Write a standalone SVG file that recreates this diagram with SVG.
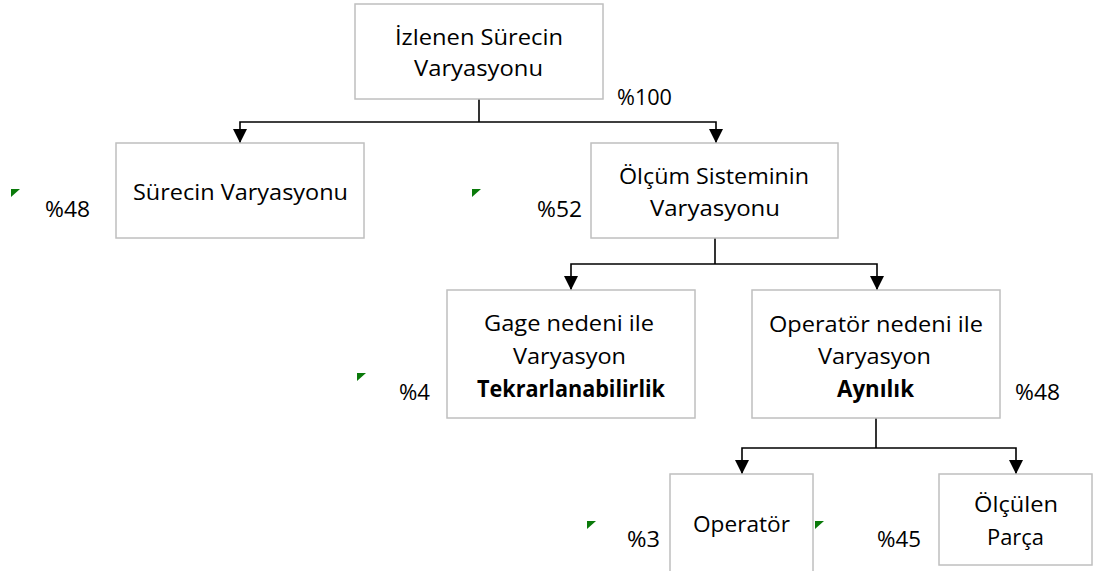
<svg xmlns="http://www.w3.org/2000/svg" width="1101" height="571" viewBox="0 0 1101 571">
  <style>
    .box { fill: #ffffff; stroke: #bfbfbf; stroke-width: 1.5; }
    .t, .pct { font-family: "Open Sans", "Noto Sans", "Liberation Sans", sans-serif; font-size: 22.5px; fill: #000000; }
    .b { font-weight: bold; }
    .link { fill: none; stroke: #000000; stroke-width: 1.6; }
    .flag { fill: #0a7a0a; }
  </style>
  <defs>
    <marker id="arrow" markerUnits="userSpaceOnUse" markerWidth="15" markerHeight="15" refX="14" refY="7" orient="auto">
      <path d="M0,0 L14,7 L0,14 Z" fill="#000000"/>
    </marker>
  </defs>

  <rect width="1101" height="571" fill="#ffffff"/>

  <!-- connectors -->
  <g id="connectors">
    <polyline class="link" points="479,99 479,122"/>
    <polyline class="link" points="479,122 240,122 240,143" marker-end="url(#arrow)"/>
    <polyline class="link" points="479,122 716,122 716,143" marker-end="url(#arrow)"/>
    <polyline class="link" points="715,238 715,264"/>
    <polyline class="link" points="715,264 571,264 571,290" marker-end="url(#arrow)"/>
    <polyline class="link" points="715,264 877,264 877,290" marker-end="url(#arrow)"/>
    <polyline class="link" points="876,418 876,448"/>
    <polyline class="link" points="876,448 742,448 742,474" marker-end="url(#arrow)"/>
    <polyline class="link" points="876,448 1016,448 1016,474" marker-end="url(#arrow)"/>
  </g>

  <!-- root -->
  <g id="node-total">
    <rect class="box" x="355" y="4" width="248" height="95"/>
    <text class="t" x="395" y="45" textLength="168" lengthAdjust="spacingAndGlyphs">İzlenen Sürecin</text>
    <text class="t" x="414" y="76" textLength="129" lengthAdjust="spacingAndGlyphs">Varyasyonu</text>
    <text class="pct" x="617" y="105" textLength="55" lengthAdjust="spacingAndGlyphs">%100</text>
  </g>

  <g id="node-process">
    <rect class="box" x="116" y="143" width="248" height="95"/>
    <text class="t" x="133" y="200" textLength="215" lengthAdjust="spacingAndGlyphs">Sürecin Varyasyonu</text>
    <polygon class="flag" points="11,189 20,189 11,197"/>
    <text class="pct" x="45" y="217" textLength="45" lengthAdjust="spacingAndGlyphs">%48</text>
  </g>

  <g id="node-measurement">
    <rect class="box" x="591" y="143" width="247" height="95"/>
    <text class="t" x="619" y="184" textLength="190" lengthAdjust="spacingAndGlyphs">Ölçüm Sisteminin</text>
    <text class="t" x="650" y="216" textLength="130" lengthAdjust="spacingAndGlyphs">Varyasyonu</text>
    <polygon class="flag" points="472,189 481,189 472,197"/>
    <text class="pct" x="537" y="217" textLength="45" lengthAdjust="spacingAndGlyphs">%52</text>
  </g>

  <g id="node-gage">
    <rect class="box" x="447" y="290" width="248" height="128"/>
    <text class="t" x="484" y="331" textLength="170" lengthAdjust="spacingAndGlyphs">Gage nedeni ile</text>
    <text class="t" x="513" y="364" textLength="113" lengthAdjust="spacingAndGlyphs">Varyasyon</text>
    <text class="t b" x="477" y="397" textLength="188" lengthAdjust="spacingAndGlyphs">Tekrarlanabilirlik</text>
    <polygon class="flag" points="357,373 366,373 357,381"/>
    <text class="pct" x="399" y="400" textLength="31" lengthAdjust="spacingAndGlyphs">%4</text>
  </g>

  <g id="node-operator-total">
    <rect class="box" x="752" y="290" width="248" height="128"/>
    <text class="t" x="769" y="332" textLength="214" lengthAdjust="spacingAndGlyphs">Operatör nedeni ile</text>
    <text class="t" x="818" y="364" textLength="113" lengthAdjust="spacingAndGlyphs">Varyasyon</text>
    <text class="t b" x="837" y="397" textLength="77" lengthAdjust="spacingAndGlyphs">Aynılık</text>
    <text class="pct" x="1015" y="400" textLength="45" lengthAdjust="spacingAndGlyphs">%48</text>
  </g>

  <g id="node-operator">
    <rect class="box" x="670" y="474" width="143" height="110"/>
    <text class="t" x="693" y="532" textLength="97" lengthAdjust="spacingAndGlyphs">Operatör</text>
    <polygon class="flag" points="587,521 596,521 587,529"/>
    <text class="pct" x="627" y="547" textLength="33" lengthAdjust="spacingAndGlyphs">%3</text>
  </g>

  <g id="node-part">
    <rect class="box" x="939" y="474" width="153" height="91"/>
    <text class="t" x="974" y="512" textLength="84" lengthAdjust="spacingAndGlyphs">Ölçülen</text>
    <text class="t" x="987" y="545" textLength="57" lengthAdjust="spacingAndGlyphs">Parça</text>
    <polygon class="flag" points="815,521 824,521 815,529"/>
    <text class="pct" x="877" y="547" textLength="44" lengthAdjust="spacingAndGlyphs">%45</text>
  </g>
</svg>
